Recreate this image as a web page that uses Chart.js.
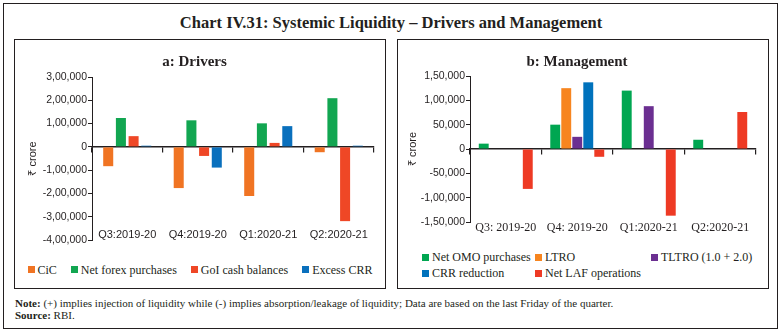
<!DOCTYPE html>
<html>
<head>
<meta charset="utf-8">
<script src="https://cdn.jsdelivr.net/npm/chart.js@4.4.0/dist/chart.umd.min.js"></script>
<style>
  body { margin: 0; width: 782px; height: 333px; background: #fff; position: relative; overflow: hidden; font-family: "Liberation Serif", serif; color: #231f20; }
  .box { position: absolute; box-sizing: border-box; border: 1.5px solid #231f20; }
  #frame { left: 3px; top: 3px; width: 775px; height: 326px; }
  #panelA { left: 14px; top: 39px; width: 372px; height: 250px; }
  #panelB { left: 397px; top: 39px; width: 372px; height: 250px; }
  #mainTitle { position: absolute; left: 0; width: 782px; top: 13px; text-align: center; font-weight: bold; font-size: 16.5px; line-height: 20px; }
  canvas { position: absolute; }
  .legend { position: absolute; font-size: 12px; line-height: 16px; white-space: nowrap; }
  .legend span.item { display: inline-flex; align-items: center; }
  .legend i { display: inline-block; width: 7px; height: 7px; margin-right: 3px; }
  #legendA { left: 14px; width: 372px; top: 261px; text-align: center; }
  #legendA span.item { margin: 0 7px; }
  #legendB { left: 422px; top: 249px; display: grid; grid-template-columns: 113px 116px auto; }
  .note { position: absolute; left: 15px; font-size: 11px; line-height: 12px; }
</style>
</head>
<body>
<div class="box" id="frame"></div>
<div id="mainTitle">Chart IV.31: Systemic Liquidity – Drivers and Management</div>
<div class="box" id="panelA"></div>
<div class="box" id="panelB"></div>
<canvas id="chartA" width="370" height="215" style="left:15px;top:40px;width:370px;height:215px"></canvas>
<canvas id="chartB" width="369" height="200" style="left:398px;top:40px;width:369px;height:200px"></canvas>
<div class="legend" id="legendA"></div>
<div class="legend" id="legendB"></div>
<div class="note" style="top:297px"><b>Note:</b> (+) implies injection of liquidity while (-) implies absorption/leakage of liquidity; Data are based on the last Friday of the quarter.</div>
<div class="note" style="top:309px"><b>Source:</b> RBI.</div>

<script>
// a: Drivers (₹ crore)
const quartersA = ['Q3:2019-20', 'Q4:2019-20', 'Q1:2020-21', 'Q2:2020-21'];
const cic = [-83000, -177000, -211000, -23000];
const netForex = [124000, 114000, 101000, 209000];
const goiCash = [46000, -39000, 17000, -319000];
const excessCrr = [5000, -89000, 89000, 5000];

// b: Management (₹ crore)
const quartersB = ['Q3: 2019-20', 'Q4: 2019-20', 'Q1:2020-21', 'Q2:2020-21'];
const netOmo = [11000, 50000, 120000, 19000];
const ltro = [null, 125000, null, null];
const tltro = [null, 25000, 88000, null];
const crrReduction = [null, 137000, null, null];
const netLaf = [-82000, -16000, -137000, 76000];

const ink = '#231f20';

// indian digit grouping: 3,00,000
function inr(v) {
  let neg = v < 0;
  let s = String(Math.abs(Math.round(v)));
  if (s.length > 3) {
    let rest = s.slice(0, -3).replace(/\B(?=(\d{2})+(?!\d))/g, ',');
    s = rest + ',' + s.slice(-3);
  }
  return (neg ? '-' : '') + s;
}

function makeChart(id, cfg) {
  return new Chart(document.getElementById(id), {
    type: 'bar',
    data: { labels: cfg.labels, datasets: cfg.datasets },
    options: {
      responsive: false,
      animation: false,
      devicePixelRatio: 1,
      categoryPercentage: cfg.catPct,
      barPercentage: cfg.barPct,
      layout: { padding: { left: 0, right: 11, top: 0, bottom: cfg.bottomPad } },
      plugins: {
        legend: { display: false },
        tooltip: { enabled: false },
        title: {
          display: true,
          text: cfg.title,
          color: ink,
          font: { family: 'Liberation Serif', size: 15, weight: 'bold' },
          padding: { top: 13, bottom: cfg.titleGap }
        }
      },
      scales: {
        // category names sit inside the plot, near its foot
        x: {
          position: { y: cfg.labelAt },
          offset: true,
          grid: { display: false },
          border: { display: false },
          ticks: {
            color: ink,
            autoSkip: false,
            maxRotation: 0,
            padding: 0,
            font: cfg.labelFont
          }
        },
        x0: {
          type: 'category',
          labels: cfg.labels,
          position: { y: 0 },
          offset: true,
          grid: { offset: true, drawOnChartArea: false, drawTicks: true, tickLength: 5, color: ink, lineWidth: 1.2 },
          border: { display: true, color: ink, width: 1.5 },
          ticks: { display: false }
        },
        y: {
          min: cfg.min,
          max: cfg.max,
          ticks: {
            stepSize: cfg.step,
            color: ink,
            padding: 1,
            font: { family: 'Liberation Sans', size: 10.5 },
            callback: function(v) { return inr(v); }
          },
          grid: { drawOnChartArea: false, drawTicks: true, tickLength: 4, color: ink },
          border: { display: true, color: ink, width: 1 },
          title: {
            display: true,
            text: '₹ crore',
            color: ink,
            font: { family: 'Liberation Sans', size: 11 },
            padding: { top: cfg.yTitlePad, bottom: 0 }
          },
          afterFit: function(s) { s.width = cfg.yWidth; }
        }
      }
    }
  });
}

function htmlLegend(chart, elId) {
  let el = document.getElementById(elId);
  chart.data.datasets.forEach(function(ds) {
    let item = document.createElement('span');
    item.className = 'item';
    let sw = document.createElement('i');
    sw.style.background = ds.backgroundColor;
    item.appendChild(sw);
    item.appendChild(document.createTextNode(ds.label));
    el.appendChild(item);
  });
}

let chartA = makeChart('chartA', {
  title: 'a: Drivers',
  titleGap: 6,
  labels: quartersA,
  datasets: [
    { label: 'CiC', data: cic, backgroundColor: '#f07423' },
    { label: 'Net forex purchases', data: netForex, backgroundColor: '#12a651' },
    { label: 'GoI cash balances', data: goiCash, backgroundColor: '#ef4726' },
    { label: 'Excess CRR', data: excessCrr, backgroundColor: '#0a70bd' }
  ],
  min: -400000, max: 300000, step: 100000,
  catPct: 0.72, barPct: 0.79,
  labelAt: -316000,
  bottomPad: 15,
  labelFont: { family: 'Liberation Sans', size: 11 },
  yWidth: 77, yTitlePad: 11
});

let chartB = makeChart('chartB', {
  title: 'b: Management',
  titleGap: 5,
  labels: quartersB,
  datasets: [
    { label: 'Net OMO purchases', data: netOmo, backgroundColor: '#00a651' },
    { label: 'LTRO', data: ltro, backgroundColor: '#f7851f' },
    { label: 'TLTRO (1.0 + 2.0)', data: tltro, backgroundColor: '#6b2f91' },
    { label: 'CRR reduction', data: crrReduction, backgroundColor: '#0072bc' },
    { label: 'Net LAF operations', data: netLaf, backgroundColor: '#ee3a24' }
  ],
  min: -150000, max: 150000, step: 50000,
  catPct: 0.77, barPct: 0.9,
  labelAt: -130000,
  bottomPad: 18,
  labelFont: { family: 'Liberation Serif', size: 12 },
  yWidth: 72, yTitlePad: 8.5
});

htmlLegend(chartA, 'legendA');
htmlLegend(chartB, 'legendB');
</script>
</body>
</html>
